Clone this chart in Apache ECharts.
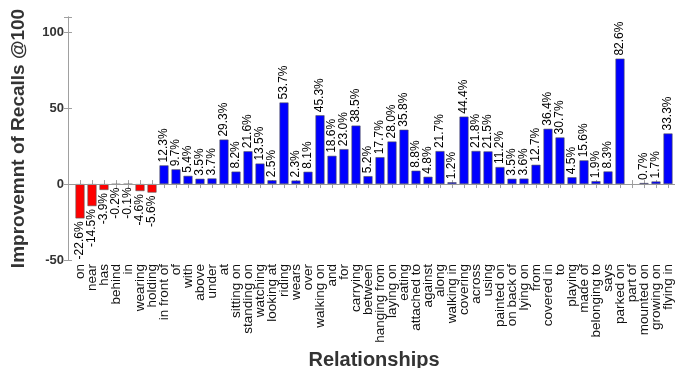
<!DOCTYPE html>
<html>
<head>
<meta charset="utf-8">
<script src="https://cdn.jsdelivr.net/npm/echarts@6/dist/echarts.min.js"></script>
<style>
  html, body { margin: 0; padding: 0; background: #fff; }
  #chart { width: 675px; height: 368px; }
</style>
</head>
<body>
<div id="chart"></div>
<script>
// Relationship predicates along the x axis
const categories = [
  'on', 'near', 'has', 'behind', 'in', 'wearing', 'holding', 'in front of', 'of', 'with',
  'above', 'under', 'at', 'sitting on', 'standing on', 'watching', 'looking at', 'riding', 'wears', 'over',
  'walking on', 'and', 'for', 'carrying', 'between', 'hanging from', 'laying on', 'eating', 'attached to', 'against',
  'along', 'walking in', 'covering', 'across', 'using', 'painted on', 'on back of', 'lying on', 'from', 'covered in',
  'to', 'playing', 'made of', 'belonging to', 'says', 'parked on', 'part of', 'mounted on', 'growing on', 'flying in'
];

// Improvement of Recall@100 per relationship (percent); null = no value
const improvement = [
  -22.6, -14.5, -3.9, -0.2, -0.1, -4.6, -5.6, 12.3, 9.7, 5.4,
  3.5, 3.7, 29.3, 8.2, 21.6, 13.5, 2.5, 53.7, 2.3, 8.1,
  45.3, 18.6, 23.0, 38.5, 5.2, 17.7, 28.0, 35.8, 8.8, 4.8,
  21.7, 1.2, 44.4, 21.8, 21.5, 11.2, 3.5, 3.6, 12.7, 36.4,
  30.7, 4.5, 15.6, 1.9, 8.3, 82.6, null, 0.7, 1.7, 33.3
];

// Y axis tick values
const yTicks = [-50, 0, 50, 100];

const FONT = '"Liberation Sans", Arial, Helvetica, sans-serif';
const AXIS_GRAY = '#a0a0a0';

const barData = improvement.map((v, i) => {
  const neg = v !== null && v < 0;
  return {
    value: [i + 1, v],
    itemStyle: { color: neg ? '#ff0000' : '#0000ff' },
    label: neg
      ? { position: 'bottom', align: 'right' }
      : { position: 'top', align: 'left' }
  };
});

const chart = echarts.init(document.getElementById('chart'), null, { renderer: 'canvas' });

const tickCommon = { show: true, inside: true, length: 4, lineStyle: { color: AXIS_GRAY, width: 1 } };

chart.setOption({
  animation: false,
  backgroundColor: '#fff',
  grid: { left: 68, top: 17, width: 612, height: 243, containLabel: false, outerBoundsMode: 'none' },
  xAxis: [
    {
      type: 'value', position: 'bottom', min: 0, max: categories.length + 1, interval: 1,
      axisLine: { show: true, lineStyle: { color: AXIS_GRAY, width: 1 } },
      axisTick: tickCommon,
      splitLine: { show: false },
      axisLabel: {
        rotate: 90, margin: 4, fontFamily: FONT, fontSize: 13.5, color: '#111',
        showMinLabel: true, showMaxLabel: true,
        formatter: v => categories[v - 1] || ''
      },
      name: 'Relationships', nameLocation: 'middle', nameGap: 85,
      nameTextStyle: { fontFamily: FONT, fontSize: 20, fontWeight: 'bold', color: '#333' }
    },
    {
      type: 'value', position: 'top', min: 0, max: categories.length + 1, interval: 1,
      axisLine: { show: true, lineStyle: { color: AXIS_GRAY, width: 1 } },
      axisTick: tickCommon,
      axisLabel: { show: false },
      splitLine: { show: false }
    }
  ],
  yAxis: [
    {
      type: 'value', position: 'left', min: yTicks[0], max: 110, interval: 50,
      axisLine: { show: true, lineStyle: { color: AXIS_GRAY, width: 1 } },
      axisTick: tickCommon,
      splitLine: { show: false },
      axisLabel: {
        margin: 4, fontFamily: FONT, fontSize: 13, fontWeight: 'bold', color: '#333',
        formatter: v => (yTicks.indexOf(v) >= 0 ? String(v) : '')
      },
      name: 'Improvemnt of Recalls @100', nameLocation: 'middle', nameGap: 40,
      nameTextStyle: { fontFamily: FONT, fontSize: 19, fontWeight: 'bold', color: '#333' }
    },
    {
      type: 'value', position: 'right', min: yTicks[0], max: 110, interval: 50,
      axisLine: { show: true, lineStyle: { color: AXIS_GRAY, width: 1 } },
      axisTick: tickCommon,
      axisLabel: { show: false },
      splitLine: { show: false }
    }
  ],
  series: [{
    type: 'bar',
    xAxisIndex: 0,
    yAxisIndex: 0,
    barWidth: 9,
    data: barData,
    itemStyle: { borderColor: '#555', borderWidth: 0.6 },
    label: {
      show: true, rotate: 90, distance: 3, verticalAlign: 'middle',
      fontFamily: FONT, fontSize: 12, color: '#000',
      formatter: p => (p.value[1] === null ? '' : p.value[1].toFixed(1) + '%')
    },
    markLine: {
      silent: true, symbol: 'none', animation: false,
      label: { show: false },
      lineStyle: { color: '#999', width: 1, type: 'solid' },
      data: [{ yAxis: 0 }]
    }
  }]
});
</script>
</body>
</html>
